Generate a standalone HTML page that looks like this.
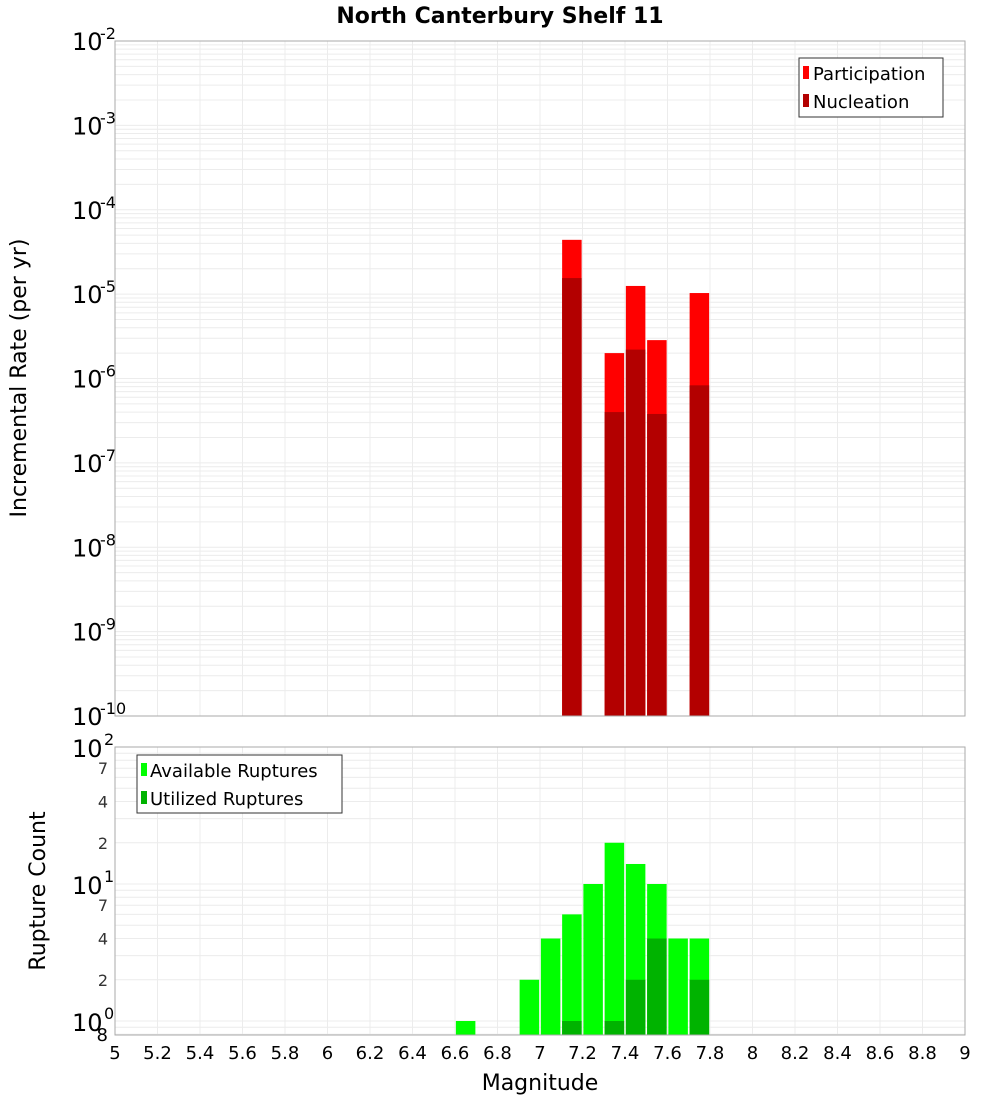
<!DOCTYPE html>
<html><head><meta charset="utf-8"><style>
body{margin:0;background:#fff}
svg{font-family:"DejaVu Sans","Liberation Sans",sans-serif}
</style></head><body>
<svg id="c" width="1000" height="1100" xmlns="http://www.w3.org/2000/svg"></svg>
<script>
const bins=[7.15,7.35,7.45,7.55,7.75];
const participation=[4.4e-5,2e-6,1.25e-5,2.85e-6,1.03e-5];
const nucleation=[1.55e-5,4e-7,2.2e-6,3.8e-7,8.3e-7];
const countBins=[6.65,6.95,7.05,7.15,7.25,7.35,7.45,7.55,7.65,7.75];
const available=[1,2,4,6,10,20,14,10,4,4];
const utilBins=[7.15,7.35,7.45,7.55,7.75];
const utilized=[1,1,2,4,2];
const xTicks=[5,5.2,5.4,5.6,5.8,6,6.2,6.4,6.6,6.8,7,7.2,7.4,7.6,7.8,8,8.2,8.4,8.6,8.8,9];
const topExp=[-2,-3,-4,-5,-6,-7,-8,-9,-10];
const botMinor=[2,4,7,20,40,70];

const S=document.getElementById('c'),NS='http://www.w3.org/2000/svg';
function el(t,a,p){const e=document.createElementNS(NS,t);for(const k in a)e.setAttribute(k,a[k]);(p||S).appendChild(e);return e;}
const X0=115,X1=965;
const x=m=>X0+(m-5)/4*(X1-X0);
const T0=41,T1=716;
const yT=v=>T0+(-2-Math.log10(v))*(T1-T0)/8;
const B0=747,B1=1035;
const yB=v=>B0+(2-Math.log10(v))*137;
const bw=19.5;

// title
let t=el('text',{x:500,y:23,'text-anchor':'middle','font-size':22,'font-weight':'bold'});t.textContent='North Canterbury Shelf 11';


function grids(y0,y1,yf,lines){
  for(const v of lines){const yy=yf(v);if(yy<y0-0.5||yy>y1+0.5)continue;
    const l=el('line',{x1:X0,x2:X1,y1:yy,y2:yy,stroke:'#ececec','stroke-width':1});
    }
  for(const m of xTicks){const l=el('line',{x1:x(m),x2:x(m),y1:y0,y2:y1,stroke:'#ececec'});
    }
}
// top plot
let lt=[];for(let e=-10;e<=-2;e++)for(let k=1;k<10;k++)lt.push(k*Math.pow(10,e));
grids(T0,T1,yT,lt);
bins.forEach((b,i)=>{
  let r=el('rect',{x:x(b)-bw/2,y:yT(participation[i]),width:bw,height:T1-yT(participation[i]),fill:'#ff0000'});
  
  r=el('rect',{x:x(b)-bw/2,y:yT(nucleation[i]),width:bw,height:T1-yT(nucleation[i]),fill:'#b30000'});
  
});
let f=el('rect',{x:X0,y:T0,width:X1-X0,height:T1-T0,fill:'none',stroke:'#aaa'});

topExp.forEach(e=>{const yy=yT(Math.pow(10,e));
  const g=el('text',{x:72,y:yy+9,'font-size':24});g.textContent='10';
  
  const s=el('text',{x:100,y:yy-2,'font-size':16});s.textContent=String(e);
  
});
t=el('text',{x:0,y:0,'font-size':22,'text-anchor':'middle',transform:'translate(26,378) rotate(-90)'});t.textContent='Incremental Rate (per yr)';

// top legend
let lg=el('g',{});
el('rect',{x:799,y:58,width:144,height:59,fill:'#fff',stroke:'#333'},lg);
el('rect',{x:803,y:66,width:6,height:13,fill:'#ff0000'},lg);
el('rect',{x:803,y:94,width:6,height:13,fill:'#b30000'},lg);
t=el('text',{x:813,y:80,'font-size':18},lg);t.textContent='Participation';
t=el('text',{x:813,y:108,'font-size':18},lg);t.textContent='Nucleation';

// bottom plot
let lb=[];for(let e=-1;e<=2;e++)for(let k=1;k<10;k++)lb.push(k*Math.pow(10,e));
grids(B0,B1,yB,lb);
countBins.forEach((b,i)=>{
  const r=el('rect',{x:x(b)-bw/2,y:yB(available[i]),width:bw,height:B1-yB(available[i]),fill:'#00ff00'});
  
});
utilBins.forEach((b,i)=>{
  const r=el('rect',{x:x(b)-bw/2,y:yB(utilized[i]),width:bw,height:B1-yB(utilized[i]),fill:'#00b300'});
  
});
f=el('rect',{x:X0,y:B0,width:X1-X0,height:B1-B0,fill:'none',stroke:'#aaa'});

[2,1,0].forEach(e=>{const yy=yB(Math.pow(10,e));
  const g=el('text',{x:72,y:yy+10,'font-size':24});g.textContent='10';
  
  const s=el('text',{x:104,y:yy-2,'font-size':16});s.textContent=String(e);
  
});
botMinor.forEach(v=>{const s=el('text',{x:108,y:yB(v)+6,'font-size':16,'text-anchor':'end',fill:'#333'});s.textContent=String(v).charAt(0);
  });
t=el('text',{x:108,y:1041,'font-size':18,'text-anchor':'end'});t.textContent='8';

t=el('text',{x:0,y:0,'font-size':22,'text-anchor':'middle',transform:'translate(45,891) rotate(-90)'});t.textContent='Rupture Count';

lg=el('g',{});
el('rect',{x:137,y:755,width:205,height:58,fill:'#fff',stroke:'#333'},lg);
el('rect',{x:141,y:763,width:6,height:13,fill:'#00ff00'},lg);
el('rect',{x:141,y:791,width:6,height:13,fill:'#00b300'},lg);
t=el('text',{x:150,y:777,'font-size':18},lg);t.textContent='Available Ruptures';
t=el('text',{x:150,y:805,'font-size':18},lg);t.textContent='Utilized Ruptures';

// x ticks
xTicks.forEach(m=>{const s=el('text',{x:x(m),y:1059,'font-size':18,'text-anchor':'middle'});
  s.textContent=String(m);});
t=el('text',{x:540,y:1090,'font-size':22,'text-anchor':'middle'});t.textContent='Magnitude';

</script>
</body></html>
